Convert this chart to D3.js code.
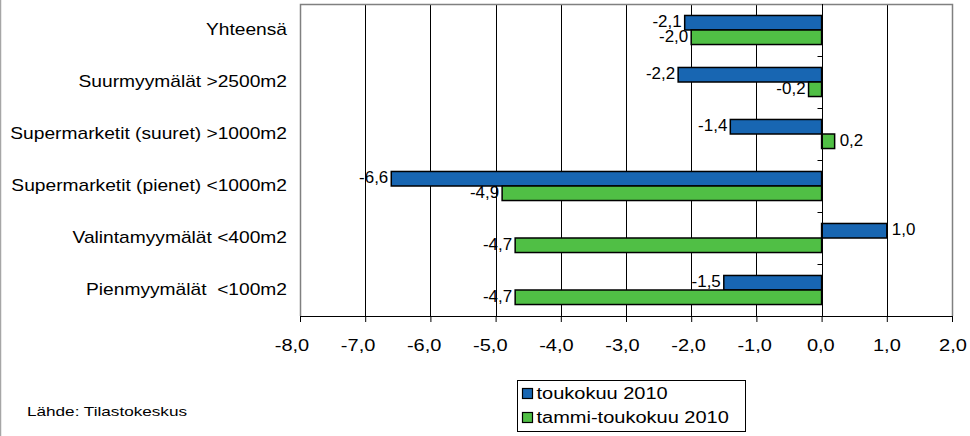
<!DOCTYPE html>
<html>
<head>
<meta charset="utf-8">
<script src="https://cdn.jsdelivr.net/npm/d3@7"></script>
<style>
  body { margin: 0; background: #fff; }
  text { font-family: "Liberation Sans", Arial, sans-serif; fill: #000; white-space: pre; }
</style>
</head>
<body>
<svg id="chart" width="970" height="436"></svg>
<script>
const categories = [
    "Yhteensä",
    "Suurmyymälät >2500m2",
    "Supermarketit (suuret) >1000m2",
    "Supermarketit (pienet) <1000m2",
    "Valintamyymälät <400m2",
    "Pienmyymälät  <100m2"
];
const seriesNames = ["toukokuu 2010", "tammi-toukokuu 2010"];
const toukokuu = [-2.1, -2.2, -1.4, -6.6, 1.0, -1.5];
const tammiToukokuu = [-2.0, -0.2, 0.2, -4.9, -4.7, -4.7];
const xTicks = [-8, -7, -6, -5, -4, -3, -2, -1, 0, 1, 2];
const source = "Lähde: Tilastokeskus";

const colors = ["#1866b2", "#50bf45"];

const svg = d3.select("#chart");
const plot = {left: 300, right: 952, top: 4, bottom: 316};

const fmt = v => d3.format(".1f")(v).replace(".", ",").replace("−", "-");

// the reference font is drawn a bit wider than it is tall
function placeText(sel, xf, yf, sx) {
    sel.attr("transform", (d, i) => `translate(${xf(d, i)},${yf(d, i)}) scale(${sx},1)`);
}

const x = d3.scaleLinear().domain([-8, 2]).range([plot.left, plot.right]);
// tick labels in the reference sit on a slightly wider spacing than the gridlines
const xLabel = x.copy().range([292, 953]);
const y0 = d3.scaleBand().domain(categories).range([plot.top, plot.bottom]).padding(0);
const y1 = d3.scaleBand().domain(seriesNames).range([0, y0.bandwidth()]).paddingOuter(0.79);

// left edge of the chart area
svg.append("line")
    .attr("x1", 0.5).attr("x2", 0.5).attr("y1", 0).attr("y2", 436)
    .attr("stroke", "#a6a6a6").attr("stroke-width", 1.5);

// gridlines
svg.append("g")
    .selectAll("line")
    .data(xTicks.filter(t => t > -8 && t < 2))
    .enter().append("line")
    .attr("x1", d => Math.round(x(d)) + 0.5)
    .attr("x2", d => Math.round(x(d)) + 0.5)
    .attr("y1", plot.top)
    .attr("y2", plot.bottom)
    .attr("stroke", "#000")
    .attr("stroke-width", 1);

// plot border
svg.append("path")
    .attr("d", `M${plot.left + 0.5},${plot.bottom} V${plot.top + 0.5} H${plot.right + 0.5} V${plot.bottom}`)
    .attr("fill", "none")
    .attr("stroke", "#808080")
    .attr("stroke-width", 1.5);

const data = categories.map((c, i) => ({
    category: c,
    values: [
        {series: seriesNames[0], value: toukokuu[i], color: colors[0]},
        {series: seriesNames[1], value: tammiToukokuu[i], color: colors[1]}
    ]
}));

const group = svg.append("g")
    .selectAll("g")
    .data(data)
    .enter().append("g")
    .attr("transform", d => `translate(0,${y0(d.category)})`);

group.selectAll("rect")
    .data(d => d.values)
    .enter().append("rect")
    .attr("x", d => x(Math.min(0, d.value)))
    .attr("width", d => Math.abs(x(d.value) - x(0)))
    .attr("y", d => y1(d.series))
    .attr("height", y1.bandwidth())
    .attr("fill", d => d.color)
    .attr("stroke", "#000")
    .attr("stroke-width", 1.5);

group.selectAll("text")
    .data(d => d.values)
    .enter().append("text")
    .attr("dy", "0.35em")
    .attr("text-anchor", d => d.value < 0 ? "end" : "start")
    .attr("font-size", "16px")
    .text(d => fmt(d.value))
    .call(placeText,
        d => d.value < 0 ? x(d.value) - 3 : x(d.value) + 5,
        d => y1(d.series) + y1.bandwidth() / 2 - 1,
        1.06);

// category labels
svg.append("g")
    .selectAll("text")
    .data(categories)
    .enter().append("text")
    .attr("dy", "0.35em")
    .attr("text-anchor", "end")
    .attr("font-size", "16px")
    .text(d => d)
    .call(placeText, () => plot.left - 13, d => y0(d) + y0.bandwidth() / 2 - 1, 1.2);

// zero axis with category ticks
const zeroX = Math.round(x(0)) + 0.5;
svg.append("line")
    .attr("x1", zeroX).attr("x2", zeroX)
    .attr("y1", plot.top).attr("y2", plot.bottom)
    .attr("stroke", "#000");
svg.append("g")
    .selectAll("line")
    .data(categories.slice(1))
    .enter().append("line")
    .attr("x1", zeroX - 5).attr("x2", zeroX)
    .attr("y1", d => Math.round(y0(d)) + 0.5)
    .attr("y2", d => Math.round(y0(d)) + 0.5)
    .attr("stroke", "#000");

// x axis: line and ticks from x, labels from xLabel
const xAxis = svg.append("g")
    .attr("transform", `translate(0,${plot.bottom})`)
    .call(d3.axisBottom(x).tickValues(xTicks).tickSize(6).tickFormat(""));
xAxis.select(".domain").attr("stroke", "#000");
xAxis.selectAll(".tick line").attr("stroke", "#000");

svg.append("g")
    .selectAll("text")
    .data(xTicks)
    .enter().append("text")
    .attr("dy", "0.35em")
    .attr("text-anchor", "middle")
    .attr("font-size", "16px")
    .text(fmt)
    .call(placeText, d => xLabel(d), () => plot.bottom + 29, 1.25);

// legend
const legend = svg.append("g").attr("transform", "translate(517.5,380.5)");
legend.append("rect")
    .attr("width", 228).attr("height", 51)
    .attr("fill", "#fff").attr("stroke", "#000");
const item = legend.selectAll("g.item")
    .data(seriesNames)
    .enter().append("g")
    .attr("class", "item")
    .attr("transform", (d, i) => `translate(5,${8 + i * 24})`);
item.append("rect")
    .attr("width", 10).attr("height", 10)
    .attr("fill", (d, i) => colors[i])
    .attr("stroke", "#000").attr("stroke-width", 1.2);
item.append("text")
    .attr("dy", "0.35em")
    .attr("font-size", "16px")
    .text(d => d)
    .call(placeText, () => 14, () => 5, 1.25);

// source note
svg.append("text")
    .attr("dy", "0.35em")
    .attr("font-size", "13.5px")
    .text(source)
    .call(placeText, () => 27, () => 411, 1.27);
</script>
</body>
</html>
